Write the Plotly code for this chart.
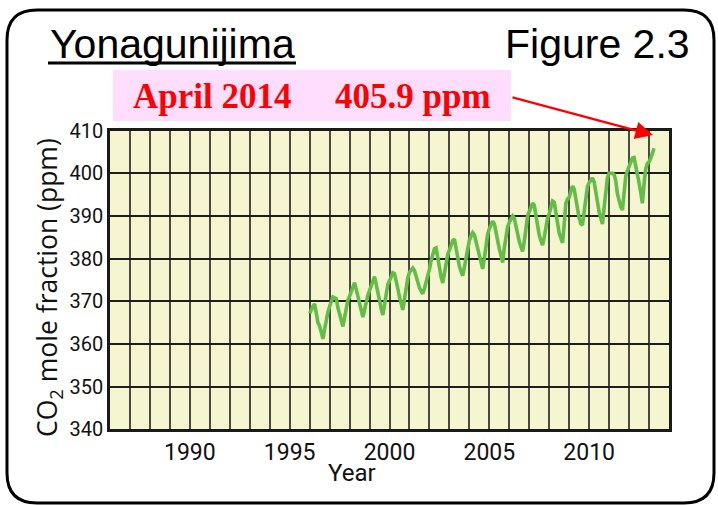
import plotly.graph_objects as go

# ---------------- data ----------------
start_year = 1996
co2_1996 = [367.2, 368.2, 368.8, 369.4, 367.0, 365.0, 364.2, 362.8, 361.2, 363.5, 366.0, 367.5]
co2_1997 = [368.8, 370.2, 371.0, 370.8, 370.6, 368.5, 366.8, 365.2, 364.1, 366.2, 368.5, 370.3]
co2_1998 = [371.2, 372.5, 373.5, 374.4, 372.8, 371.0, 369.2, 367.8, 366.3, 368.0, 370.0, 371.5]
co2_1999 = [372.5, 373.8, 374.8, 375.8, 374.0, 371.8, 370.0, 368.3, 366.8, 369.0, 371.8, 374.0]
co2_2000 = [374.8, 375.8, 376.7, 376.5, 375.0, 373.0, 371.0, 369.5, 368.0, 370.5, 373.5, 375.5]
co2_2001 = [376.8, 377.5, 377.8, 377.2, 375.8, 374.5, 373.2, 372.4, 371.8, 373.0, 374.5, 375.5]
co2_2002 = [377.5, 379.5, 381.3, 382.3, 382.5, 380.0, 377.8, 375.8, 374.3, 376.5, 379.0, 381.0]
co2_2003 = [382.0, 383.2, 384.2, 384.6, 382.5, 380.0, 378.2, 377.0, 376.0, 378.0, 380.5, 382.8]
co2_2004 = [384.3, 385.3, 386.1, 385.6, 384.0, 382.2, 381.0, 379.5, 377.6, 380.0, 383.0, 385.8]
co2_2005 = [387.0, 388.0, 388.8, 388.2, 386.0, 384.2, 382.3, 380.8, 379.1, 382.5, 385.8, 387.5]
co2_2006 = [388.5, 389.3, 390.0, 389.5, 387.5, 385.5, 384.0, 382.8, 381.7, 384.0, 387.5, 390.0]
co2_2007 = [391.0, 392.2, 393.0, 392.5, 390.0, 387.5, 385.5, 384.2, 383.2, 385.0, 387.5, 389.5]
co2_2008 = [390.5, 392.3, 393.5, 393.2, 390.5, 388.0, 386.0, 384.8, 383.7, 388.0, 393.0, 394.0]
co2_2009 = [394.4, 395.8, 397.0, 396.3, 393.8, 391.4, 389.5, 388.2, 387.9, 391.0, 395.0, 397.0]
co2_2010 = [397.8, 398.5, 398.9, 398.0, 395.5, 393.0, 391.0, 389.5, 388.1, 392.0, 396.5, 399.0]
co2_2011 = [400.0, 400.1, 400.0, 399.7, 398.3, 395.2, 393.5, 392.2, 391.4, 396.0, 399.3, 400.6]
co2_2012 = [401.5, 402.7, 403.6, 403.7, 401.3, 399.5, 397.8, 395.5, 393.0, 397.5, 401.0, 402.3]
co2_2013 = [402.7, 403.5, 404.6, 405.9]

co2_ppm = (co2_1996 + co2_1997 + co2_1998 + co2_1999 + co2_2000 + co2_2001 +
           co2_2002 + co2_2003 + co2_2004 + co2_2005 + co2_2006 + co2_2007 +
           co2_2008 + co2_2009 + co2_2010 + co2_2011 + co2_2012 + co2_2013)
decimal_year = [start_year + i / 12 for i in range(len(co2_ppm))]

x_grid_years = list(range(1986, 2015))
x_label_years = [1990, 1995, 2000, 2005, 2010]
x_tick_text = [str(y) if y in x_label_years else "" for y in x_grid_years]
y_ticks = [340, 350, 360, 370, 380, 390, 400, 410]

station = "Yonagunijima"
figure_label = "Figure 2.3"
callout_month = "April 2014"
callout_value = "405.9 ppm"

# ---------------- layout helpers ----------------
W, H = 718, 505
def px(x):
    return x / W
def py(y):
    return (H - y) / H

PLOT_L, PLOT_R, PLOT_T, PLOT_B = 110, 669, 130.7, 429.3
SANS = "Liberation Sans Narrow, Roboto, Liberation Sans, Arial, sans-serif"

fig = go.Figure()
fig.add_trace(go.Scatter(
    x=decimal_year, y=co2_ppm, mode="lines",
    line=dict(color="#62BE45", width=3.6),
    hoverinfo="skip", showlegend=False,
))

fig.update_layout(
    width=W, height=H, autosize=False,
    margin=dict(l=0, r=0, t=0, b=0, pad=0, autoexpand=False),
    paper_bgcolor="white", plot_bgcolor="#F5F6D0",
    showlegend=False,
    xaxis=dict(
        domain=[px(PLOT_L), px(PLOT_R)], range=[1986, 2014],
        automargin=False,
        tickmode="array", tickvals=x_grid_years, ticktext=x_tick_text,
        showgrid=True, gridcolor="rgba(30,30,30,0.8)", gridwidth=1.5,
        showline=True, mirror=True, linecolor="#1a1a1a", linewidth=2.5,
        ticks="", zeroline=False,
        tickfont=dict(family=SANS, size=23, color="#111"),
    ),
    yaxis=dict(
        domain=[py(PLOT_B), py(PLOT_T)], range=[340, 410],
        automargin=False,
        tickmode="array", tickvals=y_ticks,
        showgrid=True, gridcolor="#1e1e1e", gridwidth=1.5,
        showline=True, mirror=True, linecolor="#1a1a1a", linewidth=2.5,
        ticks="", zeroline=False,
        tickfont=dict(family=SANS, size=20, color="#111"),
    ),
)

# outer rounded frame
r = 30
L, R, T, B = 7, 714, 10, 503
path = (f"M {px(L)},{py(T + r)} Q {px(L)},{py(T)} {px(L + r)},{py(T)} "
        f"L {px(R - r)},{py(T)} Q {px(R)},{py(T)} {px(R)},{py(T + r)} "
        f"L {px(R)},{py(B - r)} Q {px(R)},{py(B)} {px(R - r)},{py(B)} "
        f"L {px(L + r)},{py(B)} Q {px(L)},{py(B)} {px(L)},{py(B - r)} Z")
fig.add_shape(type="path", path=path, xref="paper", yref="paper",
              line=dict(color="black", width=3), fillcolor="rgba(0,0,0,0)")

# pink callout box
fig.add_shape(type="rect", xref="paper", yref="paper",
              x0=px(113), x1=px(511), y0=py(121), y1=py(70),
              fillcolor="#FEDDFD", line=dict(width=0), layer="below")

# underline of station name
fig.add_shape(type="line", xref="paper", yref="paper",
              x0=px(48), x1=px(296), y0=py(63), y1=py(63),
              line=dict(color="black", width=3))

TITLE_FONT = "Liberation Sans, Arial, sans-serif"
fig.add_annotation(text=station, xref="paper", yref="paper",
                   x=px(172), y=py(44), showarrow=False,
                   xanchor="center", yanchor="middle",
                   font=dict(family=TITLE_FONT, size=41, color="black"))
fig.add_annotation(text=figure_label, xref="paper", yref="paper",
                   x=px(692), y=py(44), showarrow=False,
                   xanchor="right", yanchor="middle",
                   font=dict(family=TITLE_FONT, size=41, color="black"))

SERIF = "Liberation Serif, Times New Roman, serif"
fig.add_annotation(text=f"<b>{callout_month}</b>", xref="paper", yref="paper",
                   x=px(212), y=py(97), showarrow=False,
                   xanchor="center", yanchor="middle",
                   font=dict(family=SERIF, size=35, color="#FF0000"))
fig.add_annotation(text=f"<b>{callout_value}</b>", xref="paper", yref="paper",
                   x=px(413), y=py(97), showarrow=False,
                   xanchor="center", yanchor="middle",
                   font=dict(family=SERIF, size=35, color="#FF0000"))

# red arrow
fig.add_annotation(text="", xref="paper", yref="paper",
                   x=px(653), y=py(135), ax=511 - 653, ay=97 - 135,
                   showarrow=True, arrowhead=2, arrowsize=1.6, arrowwidth=2.2,
                   arrowcolor="#FF0000")

# axis titles
fig.add_annotation(text="CO<sub>2</sub> mole fraction (ppm)", xref="paper", yref="paper",
                   x=px(48), y=py(288), showarrow=False, textangle=-90,
                   xanchor="center", yanchor="middle",
                   font=dict(family="Open Sans, Noto Sans, sans-serif", size=26.5, color="#111"))
fig.add_annotation(text="Year", xref="paper", yref="paper",
                   x=px(352), y=py(473), showarrow=False,
                   xanchor="center", yanchor="middle",
                   font=dict(family=SANS, size=24, color="#111"))

fig.write_html(
    "out.html",
    config={"displayModeBar": False},
    post_script=(
        "document.documentElement.style.margin='0';"
        "document.documentElement.style.overflow='hidden';"
        "document.body.style.margin='0';document.body.style.padding='0';"
        "document.body.style.overflow='hidden';"
        "var gd=document.getElementById('{plot_id}');"
        "gd.style.position='fixed';gd.style.top='0px';gd.style.left='0px';"
    ),
)
